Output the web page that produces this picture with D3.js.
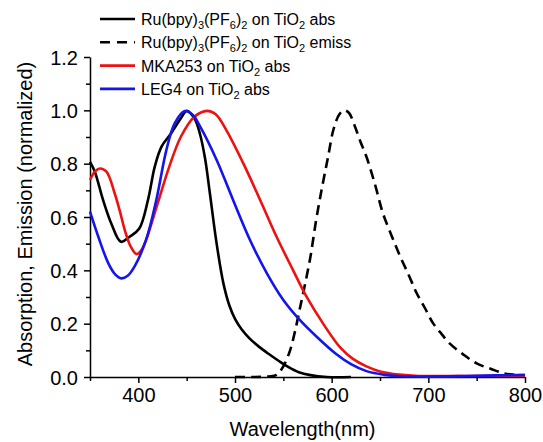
<!DOCTYPE html>
<html>
<head>
  <meta charset="utf-8">
  <title>Absorption / Emission spectra</title>
  <style>
    body { margin: 0; padding: 0; background: #fff; }
    svg { display: block; font-family: "Liberation Sans", Arial, sans-serif; }
    .axis path, .axis line { stroke: #000; stroke-width: 1.5; }
    .axis text { font-size: 20px; fill: #000; }
    .curve { fill: none; stroke-width: 2.6; stroke-linejoin: round; }
    .legend text { font-size: 16px; }
  </style>
</head>
<body>
<svg id="chart" width="543" height="442"></svg>
<script src="https://d3js.org/d3.v7.min.js"></script>
<script>

// spectra: [wavelength nm, normalized value]
var rubpyAbs = [[350,0.807],[355,0.77],[363.5,0.664],[372,0.576],[382,0.507],[391,0.526],[401,0.557],[410,0.664],
  [417,0.789],[424,0.864],[434,0.914],[444,0.97],[450,0.998],[458,0.97],[463.5,0.915],[469,0.82],[474,0.689],
  [481,0.5],[488,0.351],[494,0.27],[500,0.218],[507,0.178],[515,0.145],[525,0.113],[535,0.086],[545,0.061],
  [555,0.038],[566,0.018],[578,0.007],[595,0.0],[620,0.0]];
var rubpyEmiss = [[500,0.0],[520,0.0],[535,0.002],[543,0.008],[550,0.04],[557,0.1],[562,0.17],[567,0.255],
  [572,0.34],[578,0.45],[584,0.59],[590,0.71],[596,0.82],[602,0.93],[608,0.985],[613,1.0],[618,0.99],[623,0.95],
  [630,0.88],[636,0.826],[645,0.72],[653,0.614],[662,0.53],[671,0.451],[680,0.38],[688,0.314],[697,0.255],
  [705,0.201],[714,0.16],[722,0.126],[736,0.085],[750,0.051],[765,0.03],[778,0.014],[790,0.008],[798,0.005]];
var mkaAbs = [[350,0.739],[355,0.77],[360,0.782],[367,0.77],[375.5,0.689],[381,0.62],[386,0.551],[392,0.49],
  [398,0.461],[403,0.475],[408,0.514],[420,0.651],[432,0.789],[444,0.901],[458,0.976],[471,0.998],[480,0.985],
  [491,0.926],[508.6,0.801],[526,0.664],[543,0.526],[560,0.401],[574,0.301],[591,0.201],[609,0.11],[622,0.068],
  [636,0.04],[650,0.021],[670,0.009],[690,0.004],[740,0.004],[800,0.005]];
var leg4Abs = [[350,0.62],[358.6,0.526],[369,0.426],[376,0.385],[382.4,0.37],[389,0.38],[396,0.414],[408,0.514],
  [418.6,0.664],[429,0.851],[437.6,0.951],[448,0.997],[456.6,0.982],[464,0.939],[481,0.814],[498,0.664],
  [515.5,0.514],[533,0.389],[550,0.289],[567,0.214],[584.5,0.151],[605,0.085],[620,0.048],[636,0.022],
  [655,0.008],[670,0.003],[700,0.002],[740,0.004],[770,0.006],[800,0.008]];

var series = [
  {data: rubpyAbs,   color: "#000000", dash: null,   sub: [["Ru(bpy)",0],["3",1],["(PF",0],["6",1],[")",0],["2",1],[" on TiO",0],["2",1],[" abs",0]]},
  {data: rubpyEmiss, color: "#000000", dash: "10,6", sub: [["Ru(bpy)",0],["3",1],["(PF",0],["6",1],[")",0],["2",1],[" on TiO",0],["2",1],[" emiss",0]]},
  {data: mkaAbs,     color: "#ee1111", dash: null,   sub: [["MKA253 on TiO",0],["2",1],[" abs",0]]},
  {data: leg4Abs,    color: "#1414ee", dash: null,   sub: [["LEG4 on TiO",0],["2",1],[" abs",0]]}
];

var xTicks = [400, 500, 600, 700, 800];
var xMinor = [350, 450, 550, 650, 750];
var yTicks = [0.0, 0.2, 0.4, 0.6, 0.8, 1.0, 1.2];
var yMinor = [0.1, 0.3, 0.5, 0.7, 0.9, 1.1];

var margin = {top: 57, right: 18, bottom: 65, left: 90},
    width = 525 - margin.left,
    height = 377 - margin.top;

var svg = d3.select("#chart")
  .append("g")
  .attr("transform", "translate(" + margin.left + "," + margin.top + ")");

var x = d3.scaleLinear().domain([350, 800]).range([0, width]);
var y = d3.scaleLinear().domain([0, 1.2]).range([height, 0]);

// minor ticks first, then the labelled axes on top
svg.append("g").attr("class", "axis")
  .attr("transform", "translate(0," + height + ")")
  .call(d3.axisBottom(x).tickValues(xMinor).tickSize(4).tickFormat(""))
  .select(".domain").remove();
svg.append("g").attr("class", "axis")
  .call(d3.axisLeft(y).tickValues(yMinor).tickSize(4).tickFormat(""))
  .select(".domain").remove();

var xAxis = svg.append("g").attr("class", "axis")
  .attr("transform", "translate(0," + height + ")")
  .call(d3.axisBottom(x).tickValues(xTicks).tickSize(6).tickSizeOuter(0).tickPadding(5).tickFormat(d3.format("d")));
var yAxis = svg.append("g").attr("class", "axis")
  .call(d3.axisLeft(y).tickValues(yTicks).tickSize(6).tickSizeOuter(0).tickPadding(6).tickFormat(d3.format(".1f")));
yAxis.selectAll("text").attr("dy", "0.36em");
svg.selectAll(".axis").attr("font-family", null).attr("font-size", null);

svg.append("text")
  .attr("x", width / 2 - 5).attr("y", height + 59)
  .attr("text-anchor", "middle").attr("font-size", 20)
  .text("Wavelength(nm)");

svg.append("text")
  .attr("transform", "translate(-58," + (height / 2 - 3) + ") rotate(-90)")
  .attr("text-anchor", "middle").attr("font-size", 20)
  .text("Absorption, Emission (normalized)");

var line = d3.line()
  .x(function(d) { return x(d[0]); })
  .y(function(d) { return y(d[1]); })
  .curve(d3.curveCatmullRom.alpha(0.5));

svg.selectAll(".curve")
  .data(series)
  .enter().append("path")
  .attr("class", "curve")
  .attr("stroke", function(d) { return d.color; })
  .attr("stroke-dasharray", function(d) { return d.dash; })
  .attr("d", function(d) { return line(d.data); });

// legend
var legend = d3.select("#chart").append("g").attr("class", "legend");
series.forEach(function(s, i) {
  var ly = 19 + i * 23.3;
  legend.append("line")
    .attr("x1", 100).attr("x2", 135).attr("y1", ly).attr("y2", ly)
    .attr("stroke", s.color).attr("stroke-width", 2.6)
    .attr("stroke-dasharray", s.dash ? "10,7" : null);
  var t = legend.append("text").attr("x", 141).attr("y", ly + 6);
  var shift = 0;
  s.sub.forEach(function(p) {
    var ts = t.append("tspan").text(p[0]);
    if (p[1]) { ts.attr("font-size", 11).attr("dy", 4 - shift); shift = 4; }
    else { ts.attr("dy", -shift); shift = 0; }
  });
});

</script>
</body>
</html>
